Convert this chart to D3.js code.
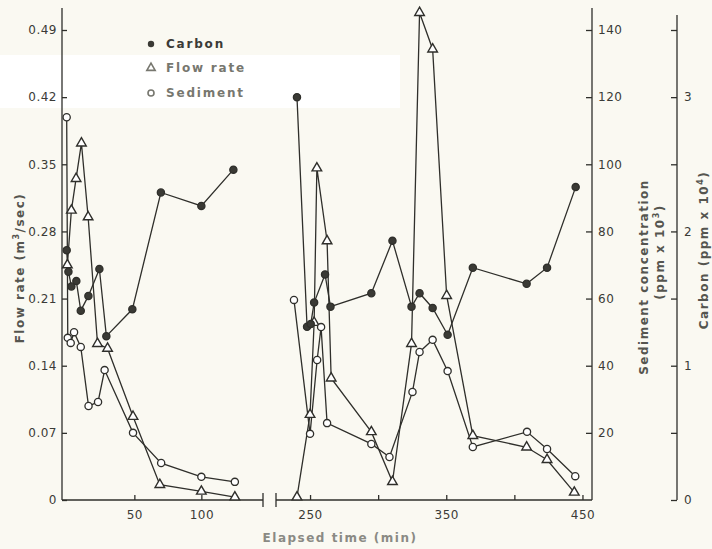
<!DOCTYPE html>
<html lang="en">
<head>
    <meta charset="utf-8">
    <title>Flow rate, sediment and carbon</title>
    <script src="https://cdn.jsdelivr.net/npm/d3@7"></script>
    <style>
        body { margin: 0; background: #faf9f2; }
        svg text { font-family: "DejaVu Sans", sans-serif; }
    </style>
</head>
<body>
    <div id="chart"></div>

    <script>
        const width = 712, height = 549;

        // ---- data ----
        // first part of the run (0 - 125 min)
        const flowTimeA = [0, 3, 6.5, 10.5, 15.5, 22.5, 30, 49, 69, 100, 125];
        const flowRateA = [0.245, 0.302, 0.335, 0.372, 0.295, 0.163, 0.158, 0.087, 0.016, 0.009, 0.003];
        const sedTimeA = [-0.5, 0.3, 2.5, 5, 10, 15.8, 22.9, 27.8, 49, 70, 100, 125];
        const sedConcA = [114, 48.3, 46.8, 50, 45.6, 28, 29.2, 38.7, 20, 11, 6.9, 5.4];
        const carbTimeA = [-0.5, 0.8, 3, 6.7, 10, 15.7, 23.9, 29.1, 48.5, 69.8, 100, 123.9];
        const carbConcA = [1.86, 1.7, 1.59, 1.63, 1.41, 1.52, 1.72, 1.22, 1.42, 2.29, 2.19, 2.46];

        // second part of the run (240 - 445 min)
        const flowTimeB = [240.4, 250, 253, 255, 262.5, 265.5, 295, 310.5, 324.5, 330.4, 340, 350.3, 369.5, 409, 424, 444];
        const flowRateB = [0.003, 0.089, 0.185, 0.346, 0.27, 0.127, 0.071, 0.019, 0.163, 0.508, 0.47, 0.213, 0.067, 0.055, 0.042, 0.008];
        const sedTimeB = [238.2, 250, 255.2, 258.1, 262.5, 295, 308.3, 325.2, 330.4, 340, 351, 369.5, 409.3, 424, 444.7];
        const sedConcB = [59.6, 19.7, 41.7, 51.5, 22.9, 16.7, 12.8, 32.2, 44.1, 47.7, 38.4, 15.8, 20.3, 15.2, 7.1];
        const carbTimeB = [240.4, 247.8, 250.5, 253, 261, 265, 295, 310.5, 324.5, 330.4, 340, 351, 369.5, 409, 424, 445];
        const carbConcB = [3.0, 1.29, 1.31, 1.47, 1.68, 1.44, 1.54, 1.93, 1.44, 1.54, 1.43, 1.23, 1.73, 1.61, 1.73, 2.33];

        const flowTicks = [0, 0.07, 0.14, 0.21, 0.28, 0.35, 0.42, 0.49];
        const sedTicks = [20, 40, 60, 80, 100, 120, 140];
        const carbTicks = [0, 0.5, 1, 1.5, 2, 2.5, 3, 3.5];
        const timeTicksA = [50, 100];
        const timeTicksB = [250, 300, 350, 400, 450];

        // ---- scales ----
        const xA = d3.scaleLinear().domain([-4, 146]).range([62, 263]);
        const xB = d3.scaleLinear().domain([225, 457]).range([276, 592]);
        const yFlow = d3.scaleLinear().domain([0, 0.49]).range([500, 30]);
        const ySed = d3.scaleLinear().domain([0, 140]).range([500, 30]);
        const yCarb = d3.scaleLinear().domain([0, 3.5]).range([500, 30]);

        const ink = "#2f2f2b";

        const svg = d3.select("#chart").append("svg")
            .attr("width", width)
            .attr("height", height);

        svg.append("rect").attr("width", width).attr("height", height).attr("fill", "#faf9f2");
        // lighter patch of the scan behind the legend
        svg.append("rect").attr("x", 0).attr("y", 55).attr("width", 400).attr("height", 53).attr("fill", "#ffffff");

        // ---- axes ----
        const axes = svg.append("g");

        function styleAxis(g, size) {
            g.select(".domain").remove();
            g.selectAll("line").attr("stroke", ink).attr("stroke-width", 1.3);
            g.selectAll("text").attr("fill", "#3b3b37").attr("font-size", size).attr("letter-spacing", "0.5px");
        }

        // left: flow rate
        axes.append("g")
            .attr("transform", "translate(62,0)")
            .call(d3.axisLeft(yFlow).tickValues(flowTicks).tickSizeInner(-5).tickSizeOuter(0).tickPadding(5)
                .tickFormat(d => d === 0 ? "0" : d3.format(".2f")(d)))
            .call(g => styleAxis(g, 12));
        axes.append("line").attr("x1", 62).attr("x2", 62).attr("y1", 8).attr("y2", 500)
            .attr("stroke", ink).attr("stroke-width", 1.3);

        // right: sediment
        axes.append("g")
            .attr("transform", "translate(592,0)")
            .call(d3.axisRight(ySed).tickValues(sedTicks).tickSizeInner(-6).tickSizeOuter(0).tickPadding(6))
            .call(g => styleAxis(g, 12));
        axes.append("line").attr("x1", 592).attr("x2", 592).attr("y1", 8).attr("y2", 500)
            .attr("stroke", ink).attr("stroke-width", 1.3);

        // far right: carbon
        axes.append("g")
            .attr("transform", "translate(677,0)")
            .call(d3.axisRight(yCarb).tickValues(carbTicks).tickSizeInner(-6).tickSizeOuter(0).tickPadding(7)
                .tickFormat(d => Number.isInteger(d) ? d : ""))
            .call(g => styleAxis(g, 12));
        axes.append("line").attr("x1", 677).attr("x2", 677).attr("y1", 15).attr("y2", 500)
            .attr("stroke", ink).attr("stroke-width", 1.3);

        // bottom: time, broken in two
        axes.append("g")
            .attr("transform", "translate(0,500)")
            .call(d3.axisBottom(xA).tickValues(timeTicksA).tickSizeInner(-5).tickSizeOuter(0).tickPadding(10))
            .call(g => styleAxis(g, 12));
        axes.append("g")
            .attr("transform", "translate(0,500)")
            .call(d3.axisBottom(xB).tickValues(timeTicksB).tickSizeInner(-5).tickSizeOuter(0).tickPadding(10)
                .tickFormat(d => d % 100 === 50 ? d : ""))
            .call(g => styleAxis(g, 12));
        axes.append("line").attr("x1", 62).attr("x2", 263).attr("y1", 500).attr("y2", 500)
            .attr("stroke", ink).attr("stroke-width", 1.3);
        axes.append("line").attr("x1", 276).attr("x2", 592).attr("y1", 500).attr("y2", 500)
            .attr("stroke", ink).attr("stroke-width", 1.3);
        [263, 276].forEach(x => axes.append("line")
            .attr("x1", x).attr("x2", x).attr("y1", 493).attr("y2", 507)
            .attr("stroke", ink).attr("stroke-width", 1.3));

        // ---- axis titles ----
        const title = (x, y, rot, txt) => svg.append("text")
            .attr("transform", `translate(${x},${y}) rotate(${rot})`)
            .attr("text-anchor", "middle")
            .attr("font-size", 12).attr("font-weight", "bold")
            .attr("letter-spacing", "1.5px")
            .attr("fill", "#55554f")
            .html(txt);

        title(24, 268, -90, 'Flow rate (m<tspan dy="-5" font-size="8">3</tspan><tspan dy="5">/sec)</tspan>');
        title(648, 277, -90, 'Sediment concentration');
        title(664, 252, -90, '(ppm x 10<tspan dy="-5" font-size="8">3</tspan><tspan dy="5">)</tspan>');
        title(708, 250, -90, 'Carbon (ppm x 10<tspan dy="-5" font-size="8">4</tspan><tspan dy="5">)</tspan>');
        title(340, 542, 0, 'Elapsed time (min)').attr("fill", "#8a8a84");

        // ---- series ----
        const zip = (ts, vs) => ts.map((t, i) => ({ t: t, v: vs[i] }));

        const series = [
            { x: xA, y: yFlow, data: zip(flowTimeA, flowRateA), mark: "tri" },
            { x: xB, y: yFlow, data: zip(flowTimeB, flowRateB), mark: "tri" },
            { x: xA, y: ySed, data: zip(sedTimeA, sedConcA), mark: "open" },
            { x: xB, y: ySed, data: zip(sedTimeB, sedConcB), mark: "open" },
            { x: xA, y: yCarb, data: zip(carbTimeA, carbConcA), mark: "dot" },
            { x: xB, y: yCarb, data: zip(carbTimeB, carbConcB), mark: "dot" }
        ];

        const plot = svg.append("g");

        series.forEach(s => {
            const line = d3.line().x(d => s.x(d.t)).y(d => s.y(d.v));
            plot.append("path")
                .attr("d", line(s.data))
                .attr("fill", "none")
                .attr("stroke", ink)
                .attr("stroke-width", 1.3);
        });

        const tri = d3.symbol(d3.symbolTriangle, 40);

        series.forEach(s => {
            const g = plot.append("g");
            if (s.mark === "tri") {
                g.selectAll("path").data(s.data).enter().append("path")
                    .attr("d", tri)
                    .attr("transform", d => `translate(${s.x(d.t)},${s.y(d.v)})`)
                    .attr("fill", "#ffffff").attr("stroke", ink).attr("stroke-width", 1.4);
            } else {
                g.selectAll("circle").data(s.data).enter().append("circle")
                    .attr("cx", d => s.x(d.t))
                    .attr("cy", d => s.y(d.v))
                    .attr("r", 3.6)
                    .attr("fill", s.mark === "dot" ? "#3a3a35" : "#ffffff")
                    .attr("stroke", ink).attr("stroke-width", 1.3);
            }
        });

        // ---- legend ----
        const legend = svg.append("g").attr("font-size", 12).attr("font-weight", "bold").attr("letter-spacing", "1.8px");
        legend.append("circle").attr("cx", 151).attr("cy", 44).attr("r", 3.2).attr("fill", "#3a3a35");
        legend.append("text").attr("x", 166).attr("y", 48).attr("fill", "#3b3b37").text("Carbon");
        legend.append("path").attr("d", d3.symbol(d3.symbolTriangle, 30)).attr("transform", "translate(151,68)")
            .attr("fill", "none").attr("stroke", "#77776f").attr("stroke-width", 1.6);
        legend.append("text").attr("x", 166).attr("y", 72).attr("fill", "#77776f").text("Flow rate");
        legend.append("circle").attr("cx", 151).attr("cy", 93).attr("r", 3).attr("fill", "none")
            .attr("stroke", "#77776f").attr("stroke-width", 1.6);
        legend.append("text").attr("x", 166).attr("y", 97).attr("fill", "#77776f").text("Sediment");
    </script>
</body>
</html>
